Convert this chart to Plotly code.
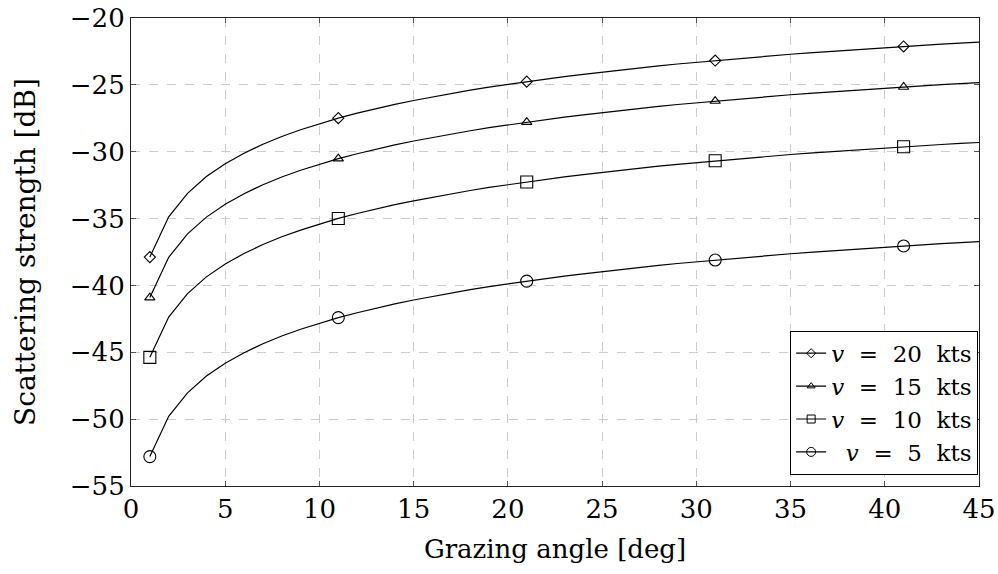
import plotly.graph_objects as go

angle = list(range(1, 46))

ss_20 = [-37.88, -34.87, -33.11, -31.86, -30.90, -30.11, -29.44, -28.86, -28.36, -27.90,
         -27.49, -27.12, -26.78, -26.46, -26.17, -25.90, -25.64, -25.40, -25.17, -24.96,
         -24.76, -24.56, -24.38, -24.21, -24.04, -23.88, -23.73, -23.58, -23.44, -23.31,
         -23.18, -23.06, -22.94, -22.82, -22.71, -22.61, -22.51, -22.41, -22.31, -22.22,
         -22.13, -22.04, -21.96, -21.88, -21.81]
ss_15 = [-40.91, -37.90, -36.14, -34.89, -33.93, -33.14, -32.47, -31.89, -31.39, -30.93,
         -30.52, -30.15, -29.81, -29.49, -29.20, -28.93, -28.67, -28.43, -28.20, -27.99,
         -27.79, -27.59, -27.41, -27.24, -27.07, -26.91, -26.76, -26.61, -26.47, -26.34,
         -26.21, -26.09, -25.97, -25.85, -25.74, -25.64, -25.54, -25.44, -25.34, -25.25,
         -25.16, -25.07, -24.99, -24.91, -24.84]
ss_10 = [-45.38, -42.37, -40.61, -39.36, -38.40, -37.61, -36.94, -36.36, -35.86, -35.40,
         -34.99, -34.62, -34.28, -33.96, -33.67, -33.40, -33.14, -32.90, -32.67, -32.46,
         -32.26, -32.06, -31.88, -31.71, -31.54, -31.38, -31.23, -31.08, -30.94, -30.81,
         -30.68, -30.56, -30.44, -30.32, -30.21, -30.11, -30.01, -29.91, -29.81, -29.72,
         -29.63, -29.54, -29.46, -29.38, -29.31]
ss_5 = [-52.80, -49.79, -48.03, -46.78, -45.82, -45.03, -44.36, -43.78, -43.28, -42.82,
        -42.41, -42.04, -41.70, -41.38, -41.09, -40.82, -40.56, -40.32, -40.09, -39.88,
        -39.68, -39.48, -39.30, -39.13, -38.96, -38.80, -38.65, -38.50, -38.36, -38.23,
        -38.10, -37.98, -37.86, -37.74, -37.63, -37.53, -37.43, -37.33, -37.23, -37.14,
        -37.05, -36.96, -36.88, -36.80, -36.73]

NB = "\u00a0"
S2 = NB * 2
labels = [f"<i>v</i>{S2}={S2}20{S2}kts", f"<i>v</i>{S2}={S2}15{S2}kts",
          f"<i>v</i>{S2}={S2}10{S2}kts", f"{S2}<i>v</i>{S2}={S2}5{S2}kts"]
symbols = ["diamond-open", "triangle-up-open", "square-open", "circle-open"]
sizes = [8.5, 9, 12, 12]
legend_sizes = [7, 7, 8, 9]
series = [ss_20, ss_15, ss_10, ss_5]
mark_every = 10

FONT = "DejaVu Serif"
FS = 26
fig = go.Figure()

for ys, lab, sym, sz in zip(series, labels, symbols, sizes):
    fig.add_trace(go.Scatter(x=angle, y=ys, mode="lines",
                             line=dict(color="black", width=1.2),
                             showlegend=False, hoverinfo="skip"))
    mx = angle[::mark_every]
    my = ys[::mark_every]
    fig.add_trace(go.Scatter(x=mx, y=my, mode="markers",
                             marker=dict(symbol=sym, size=sz, color="black",
                                         line=dict(color="black", width=1.1)),
                             showlegend=False))

for lab, sym, lsz in zip(labels, symbols, legend_sizes):
    fig.add_trace(go.Scatter(x=[None], y=[None], mode="lines+markers", name=lab,
                             line=dict(color="black", width=1.2),
                             marker=dict(symbol=sym, size=lsz, color="black",
                                         line=dict(color="black", width=1.0))))

axis_common = dict(
    showline=True, linecolor="#222", linewidth=1.2, mirror="ticks",
    ticks="inside", ticklen=5, tickcolor="#555", tickwidth=1,
    showgrid=True, gridcolor="#cccccc", gridwidth=1, griddash="dash",
    zeroline=False, automargin=False,
    tickfont=dict(family=FONT, size=FS, color="black"),
)

fig.update_xaxes(range=[0, 45], dtick=5, tick0=0,
                 title=dict(text="Grazing angle [deg]", font=dict(family=FONT, size=FS, color="black"),
                            standoff=16),
                 **axis_common)
fig.update_yaxes(range=[-55, -20], dtick=5, tick0=-55,
                 title=dict(text="Scattering strength [dB]", font=dict(family=FONT, size=28, color="black"),
                            standoff=26),
                 **axis_common)

fig.update_layout(
    width=998, height=574,
    margin=dict(l=131, r=19, t=18, b=88),
    plot_bgcolor="white", paper_bgcolor="white",
    font=dict(family=FONT, size=FS, color="black"),
    legend=dict(x=0.999, y=0.024, xanchor="right", yanchor="bottom",
                bordercolor="black", borderwidth=1, bgcolor="white",
                font=dict(family=FONT, size=23, color="black"),
                tracegroupgap=0, itemwidth=30),
)

fig.write_html("out.html")
